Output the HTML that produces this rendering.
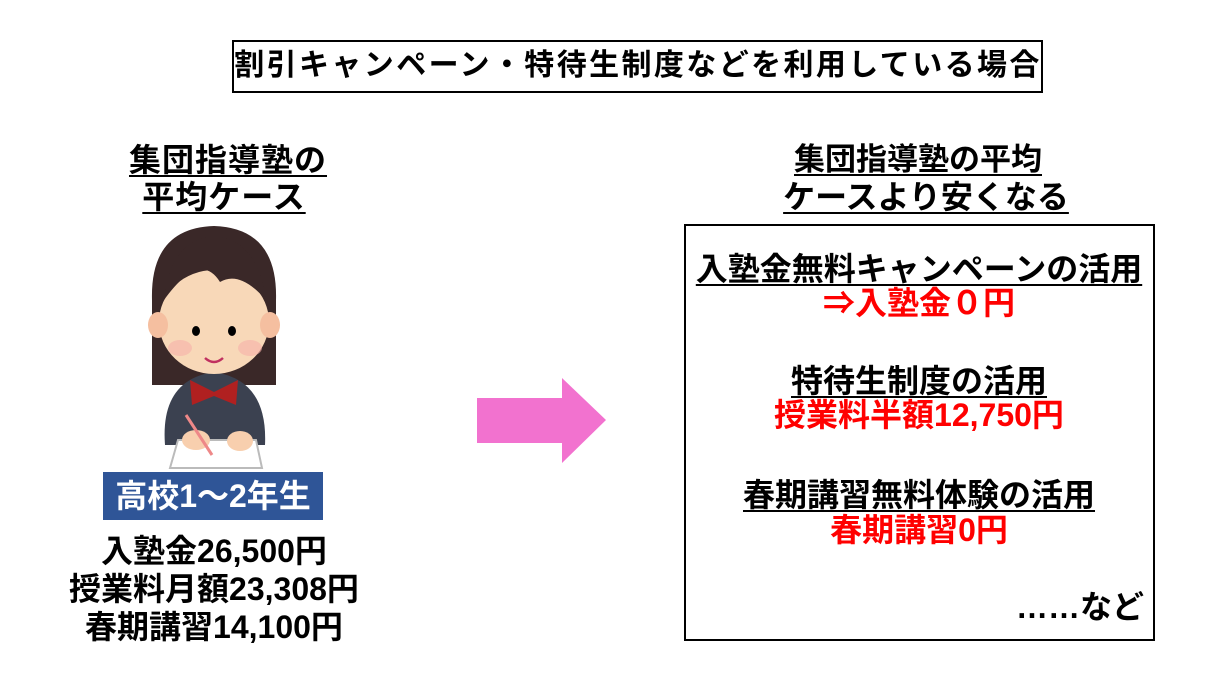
<!DOCTYPE html>
<html><head><meta charset="utf-8"><style>
body{margin:0;width:1215px;height:700px;background:#fff;position:relative;overflow:hidden;font-family:"Liberation Sans","Noto Sans CJK JP",sans-serif;font-weight:bold;}
.t{position:absolute;white-space:nowrap;transform:translateX(-50%);font-size:32px;line-height:34px;color:#000;}
.u{text-decoration:underline;text-decoration-thickness:2px;text-underline-offset:4px;}
.r{color:#ff0000;}
</style></head><body>
<div style="position:absolute;left:232px;top:40px;width:811px;height:53px;border:2px solid #000;box-sizing:border-box"></div>
<div class="t" style="left:638px;top:49px;font-size:30px;letter-spacing:2.4px">割引キャンペーン・特待生制度などを利用している場合</div>

<div class="t u" style="left:228px;top:143px;letter-spacing:1px">集団指導塾の</div>
<div class="t u" style="left:224px;top:180px;letter-spacing:1px">平均ケース</div>
<div class="t u" style="left:918px;top:143px;font-size:31px">集団指導塾の平均</div>
<div class="t u" style="left:926px;top:180px">ケースより安くなる</div>

<svg style="position:absolute;left:0;top:0" width="1215" height="700">
<path d="M152 300 Q150 228 214 226 Q278 228 276 300 L276 385 L152 385 Z" fill="#3a2828"/>
<path d="M165 445 Q160 380 214 372 Q268 380 265 445 Z" fill="#3b4150"/>
<polygon points="178,440 256,440 262,468 170,468" fill="#fff" stroke="#bbb" stroke-width="2"/>
<ellipse cx="196" cy="440" rx="14" ry="10" fill="#f8cfae"/>
<ellipse cx="240" cy="441" rx="13" ry="10" fill="#f8cfae"/>
<line x1="186" y1="415" x2="212" y2="455" stroke="#e88" stroke-width="3"/>
<ellipse cx="214" cy="322" rx="55" ry="52" fill="#f8d8b8"/>
<ellipse cx="158" cy="325" rx="10" ry="13" fill="#f5bfa0"/>
<ellipse cx="270" cy="325" rx="10" ry="13" fill="#f5bfa0"/>
<path d="M164 300 Q170 240 214 236 Q258 240 266 300 Q240 270 220 282 Q200 250 164 300Z" fill="#3a2828"/>
<ellipse cx="196" cy="331" rx="4" ry="5" fill="#000"/>
<ellipse cx="232" cy="331" rx="4" ry="5" fill="#000"/>
<ellipse cx="180" cy="348" rx="12" ry="8" fill="#f7b0a8" opacity=".6"/>
<ellipse cx="250" cy="348" rx="12" ry="8" fill="#f7b0a8" opacity=".6"/>
<path d="M205 358 Q214 366 223 358" stroke="#c03060" stroke-width="2.5" fill="none"/>
<path d="M190 380 L214 392 L238 380 L236 405 L214 396 L192 405Z" fill="#b02020"/>
<polygon points="477,398 562,398 562,378 606,420 562,463 562,443 477,443" fill="#f272cf"/>
</svg>

<div style="position:absolute;left:103px;top:472px;width:220px;height:48px;background:#2f5597"></div>
<div class="t" style="left:213px;top:479px;color:#fff">高校1〜2年生</div>

<div class="t" style="left:214px;top:534px">入塾金26,500円</div>
<div class="t" style="left:214px;top:572px">授業料月額23,308円</div>
<div class="t" style="left:214px;top:610px">春期講習14,100円</div>

<div style="position:absolute;left:684px;top:224px;width:471px;height:417px;border:2px solid #000;box-sizing:border-box"></div>
<div class="t u" style="left:919px;top:252px">入塾金無料キャンペーンの活用</div>
<div class="t r" style="left:919px;top:286px">⇒入塾金０円</div>
<div class="t u" style="left:919px;top:364px">特待生制度の活用</div>
<div class="t r" style="left:919px;top:398px">授業料半額12,750円</div>
<div class="t u" style="left:919px;top:478px">春期講習無料体験の活用</div>
<div class="t r" style="left:919px;top:513px">春期講習0円</div>
<div class="t" style="left:1080px;top:590px">……など</div>
</body></html>
